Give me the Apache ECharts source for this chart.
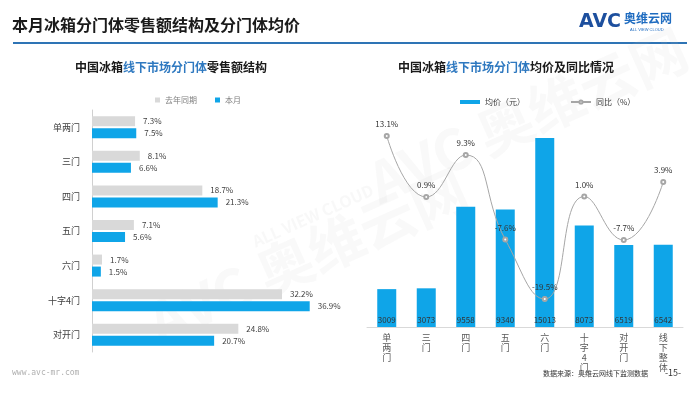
<!DOCTYPE html>
<html><head><meta charset="utf-8">
<script src="https://cdn.jsdelivr.net/npm/echarts@6/dist/echarts.min.js"></script>
<style>html,body{margin:0;padding:0;background:#fff}#c{width:700px;height:394px}</style>
</head><body><div id="c"></div>
<script>
// Left chart data
const segCats = ['单两门','三门','四门','五门','六门','十字4门','对开门'];
const lastYear = [7.3, 8.1, 18.7, 7.1, 1.7, 32.2, 24.8];
const thisMonth = [7.5, 6.6, 21.3, 5.6, 1.5, 36.9, 20.7];
// Right chart data
const priceCats = ['单两门','三门','四门','五门','六门','十字4门','对开门','线下整体'];
const avgPrice = [3009, 3073, 9558, 9340, 15013, 8073, 6519, 6542];
const yoy = [13.1, 0.9, 9.3, -7.6, -19.5, 1.0, -7.7, 3.9];

const FONT = '"Noto Sans CJK SC","Noto Sans",sans-serif';
const BLUE = '#0fa5e8';
const GREY = '#d9d9d9';
const chart = echarts.init(document.getElementById('c'), null, {renderer:'canvas'});
const vert = s => s.split('').join('\n');

chart.setOption({
  animation:false,
  textStyle:{fontFamily:FONT},
  graphic:[
    {type:'text', left:12, top:17, style:{text:'本月冰箱分门体零售额结构及分门体均价', font:'bold 16px '+FONT, fill:'#1a1a1a'}},
    {type:'rect', shape:{x:13,y:42,width:674,height:2}, style:{fill:'#2e74b5'}},
    {type:'text', left:579, top:13, style:{text:'AVC', font:'900 19px "DejaVu Sans",sans-serif', fill:'#1d4f9e'}},
    {type:'text', left:624, top:12, style:{text:'奥维云网', font:'bold 12px '+FONT, fill:'#1f6cc0'}},
    {type:'text', left:630, top:28, style:{text:'ALL VIEW CLOUD', font:'4px sans-serif', fill:'#1f6cc0'}},
    // watermarks
    {type:'text', x:140, y:300, rotation:0.42, style:{text:'AVC 奥维云网', font:'bold 56px '+FONT, fill:'rgba(200,200,200,0.10)'}},
    {type:'text', x:250, y:235, rotation:0.42, style:{text:'ALL VIEW CLOUD', font:'bold 16px '+FONT, fill:'rgba(200,200,200,0.12)'}},
    {type:'text', x:360, y:160, rotation:0.42, style:{text:'AVC 奥维云网', font:'bold 56px '+FONT, fill:'rgba(200,200,200,0.10)'}},
    // subtitles
    {type:'text', left:75, top:61, style:{rich:{a:{font:'bold 12px '+FONT, fill:'#1a1a1a'}, b:{font:'bold 12px '+FONT, fill:'#2f79c0'}}, text:'{a|中国冰箱}{b|线下市场分门体}{a|零售额结构}'}},
    {type:'text', left:398, top:61, style:{rich:{a:{font:'bold 12px '+FONT, fill:'#1a1a1a'}, b:{font:'bold 12px '+FONT, fill:'#2f79c0'}}, text:'{a|中国冰箱}{b|线下市场分门体}{a|均价及同比情况}'}},
    // footer
    {type:'text', left:12, top:369, style:{text:'www.avc-mr.com', font:'8px "DejaVu Sans Mono",monospace', fill:'#b0b0b0'}},
    {type:'text', left:543, top:370, style:{text:'数据来源：奥维云网线下监测数据', font:'7px '+FONT, fill:'#333'}},
    {type:'text', left:665, top:368, style:{text:'-15-', font:'9px '+FONT, fill:'#333'}}
  ],
  legend:[
    {left:150, top:91, itemWidth:5, itemHeight:5, itemGap:18, icon:'rect',
     textStyle:{fontSize:8, color:'#808080', fontFamily:FONT},
     data:['去年同期','本月']},
    {left:455, top:93, itemGap:45, textStyle:{fontSize:8, color:'#404040', fontFamily:FONT},
     data:[{name:'均价（元）', icon:'rect', itemStyle:{color:BLUE}}, {name:'同比（%）'}], itemWidth:20, itemHeight:4}
  ],
  grid:[
    {left:92, right:372, top:110, bottom:42},
    {left:367, right:17, top:113, bottom:67}
  ],
  xAxis:[
    {gridIndex:0, type:'value', min:0, max:40, show:false},
    {gridIndex:1, type:'category', data:priceCats,
     axisLine:{lineStyle:{color:'#d9d9d9'}}, axisTick:{show:false},
     axisLabel:{interval:0, fontSize:9, color:'#595959', lineHeight:10, margin:6, formatter:vert}}
  ],
  yAxis:[
    {gridIndex:0, type:'category', data:segCats, inverse:true,
     axisLine:{lineStyle:{color:'#d0d0d0'}}, axisTick:{show:false},
     axisLabel:{fontSize:9, color:'#404040', margin:12}},
    {gridIndex:1, type:'value', min:0, max:17000, show:false, splitLine:{show:false}},
    {gridIndex:1, type:'value', min:-25.1, max:17.7, show:false, splitLine:{show:false}}
  ],
  series:[
    {name:'去年同期', type:'bar', xAxisIndex:0, yAxisIndex:0, data:lastYear, barWidth:10, barGap:'20%',
     itemStyle:{color:GREY},
     label:{show:true, position:'right', fontSize:8, color:'#404040', distance:8, formatter:p=>p.value.toFixed(1)+'%'}},
    {name:'本月', type:'bar', xAxisIndex:0, yAxisIndex:0, data:thisMonth, barWidth:10, barGap:'20%',
     itemStyle:{color:BLUE},
     label:{show:true, position:'right', fontSize:8, color:'#404040', distance:8, formatter:p=>p.value.toFixed(1)+'%'}},
    {name:'均价（元）', type:'bar', xAxisIndex:1, yAxisIndex:1, data:avgPrice, barWidth:19,
     itemStyle:{color:BLUE},
     label:{show:true, position:'insideBottom', distance:3, fontSize:8, color:'#333'}},
    {name:'同比（%）', type:'line', xAxisIndex:1, yAxisIndex:2, data:yoy, smooth:0.5,
     symbol:'emptyCircle', symbolSize:4, lineStyle:{color:'#a6a6a6', width:1},
     itemStyle:{color:'#a6a6a6'},
     label:{show:true, position:'top', distance:5, fontSize:8, color:'#333', formatter:p=>p.value.toFixed(1)+'%'}}
  ]
});
</script></body></html>
